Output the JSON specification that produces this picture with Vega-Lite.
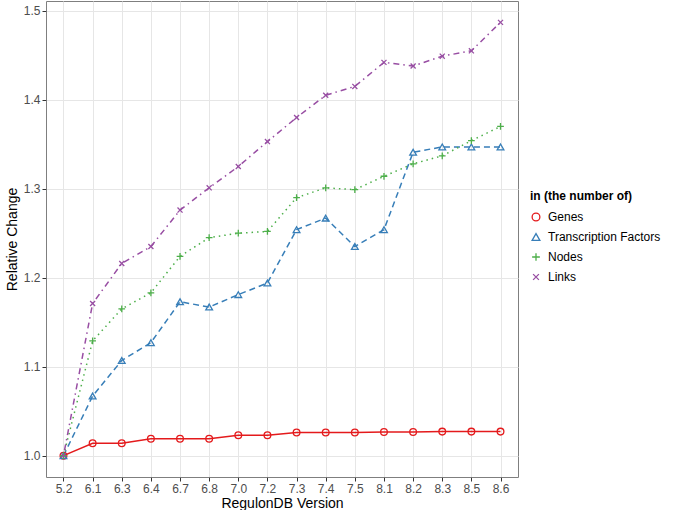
{
  "$schema": "https://vega.github.io/schema/vega-lite/v6.json",
  "width": 472,
  "height": 476,
  "padding": {"left": 5, "top": 1, "right": 0, "bottom": 0},
  "background": "white",
  "config": {
    "font": "Liberation Sans",
    "view": {"stroke": "#7f7f7f", "strokeWidth": 1},
    "axis": {
      "domain": false,
      "tickColor": "#333333",
      "tickSize": 4,
      "labelColor": "#4d4d4d",
      "labelFontSize": 12,
      "labelPadding": 2,
      "titleFontSize": 14,
      "titleFontWeight": "normal",
      "titleColor": "#000000",
      "gridColor": "#e6e6e6",
      "gridWidth": 1
    },
    "legend": {
      "titleFontSize": 12,
      "titleFontWeight": "bold",
      "titleColor": "#000000",
      "labelFontSize": 12,
      "labelColor": "#000000"
    }
  },
  "datasets": {
    "rc": [
      {"version": "5.2", "series": "Genes", "value": 1.0},
      {"version": "6.1", "series": "Genes", "value": 1.014},
      {"version": "6.3", "series": "Genes", "value": 1.014},
      {"version": "6.4", "series": "Genes", "value": 1.019},
      {"version": "6.7", "series": "Genes", "value": 1.019},
      {"version": "6.8", "series": "Genes", "value": 1.019},
      {"version": "7.0", "series": "Genes", "value": 1.023},
      {"version": "7.2", "series": "Genes", "value": 1.023},
      {"version": "7.3", "series": "Genes", "value": 1.026},
      {"version": "7.4", "series": "Genes", "value": 1.026},
      {"version": "7.5", "series": "Genes", "value": 1.026},
      {"version": "8.1", "series": "Genes", "value": 1.0265},
      {"version": "8.2", "series": "Genes", "value": 1.0265},
      {"version": "8.3", "series": "Genes", "value": 1.027},
      {"version": "8.5", "series": "Genes", "value": 1.027},
      {"version": "8.6", "series": "Genes", "value": 1.027},
      {"version": "5.2", "series": "Transcription Factors", "value": 1.0},
      {"version": "6.1", "series": "Transcription Factors", "value": 1.067},
      {"version": "6.3", "series": "Transcription Factors", "value": 1.107},
      {"version": "6.4", "series": "Transcription Factors", "value": 1.127},
      {"version": "6.7", "series": "Transcription Factors", "value": 1.173},
      {"version": "6.8", "series": "Transcription Factors", "value": 1.167},
      {"version": "7.0", "series": "Transcription Factors", "value": 1.181},
      {"version": "7.2", "series": "Transcription Factors", "value": 1.194},
      {"version": "7.3", "series": "Transcription Factors", "value": 1.254},
      {"version": "7.4", "series": "Transcription Factors", "value": 1.267},
      {"version": "7.5", "series": "Transcription Factors", "value": 1.235},
      {"version": "8.1", "series": "Transcription Factors", "value": 1.254},
      {"version": "8.2", "series": "Transcription Factors", "value": 1.341},
      {"version": "8.3", "series": "Transcription Factors", "value": 1.347},
      {"version": "8.5", "series": "Transcription Factors", "value": 1.347},
      {"version": "8.6", "series": "Transcription Factors", "value": 1.347},
      {"version": "5.2", "series": "Nodes", "value": 1.0},
      {"version": "6.1", "series": "Nodes", "value": 1.129},
      {"version": "6.3", "series": "Nodes", "value": 1.165},
      {"version": "6.4", "series": "Nodes", "value": 1.183},
      {"version": "6.7", "series": "Nodes", "value": 1.224},
      {"version": "6.8", "series": "Nodes", "value": 1.245},
      {"version": "7.0", "series": "Nodes", "value": 1.25},
      {"version": "7.2", "series": "Nodes", "value": 1.252},
      {"version": "7.3", "series": "Nodes", "value": 1.29},
      {"version": "7.4", "series": "Nodes", "value": 1.301},
      {"version": "7.5", "series": "Nodes", "value": 1.299},
      {"version": "8.1", "series": "Nodes", "value": 1.314},
      {"version": "8.2", "series": "Nodes", "value": 1.328},
      {"version": "8.3", "series": "Nodes", "value": 1.337},
      {"version": "8.5", "series": "Nodes", "value": 1.354},
      {"version": "8.6", "series": "Nodes", "value": 1.37},
      {"version": "5.2", "series": "Links", "value": 1.0},
      {"version": "6.1", "series": "Links", "value": 1.171},
      {"version": "6.3", "series": "Links", "value": 1.216},
      {"version": "6.4", "series": "Links", "value": 1.235},
      {"version": "6.7", "series": "Links", "value": 1.276},
      {"version": "6.8", "series": "Links", "value": 1.301},
      {"version": "7.0", "series": "Links", "value": 1.325},
      {"version": "7.2", "series": "Links", "value": 1.353},
      {"version": "7.3", "series": "Links", "value": 1.38},
      {"version": "7.4", "series": "Links", "value": 1.405},
      {"version": "7.5", "series": "Links", "value": 1.415},
      {"version": "8.1", "series": "Links", "value": 1.442},
      {"version": "8.2", "series": "Links", "value": 1.438},
      {"version": "8.3", "series": "Links", "value": 1.449},
      {"version": "8.5", "series": "Links", "value": 1.455},
      {"version": "8.6", "series": "Links", "value": 1.487}
    ]
  },
  "data": {"name": "rc"},
  "encoding": {
    "x": {
      "field": "version",
      "type": "ordinal",
      "sort": ["5.2","6.1","6.3","6.4","6.7","6.8","7.0","7.2","7.3","7.4","7.5","8.1","8.2","8.3","8.5","8.6"],
      "scale": {"padding": 0.6},
      "axis": {"title": "RegulonDB Version", "labelAngle": 0, "grid": true, "titlePadding": 2}
    },
    "y": {
      "field": "value",
      "type": "quantitative",
      "scale": {"domain": [0.976, 1.511], "nice": false, "zero": false}
    },
    "color": {
      "field": "series",
      "type": "nominal",
      "scale": {
        "domain": ["Genes", "Transcription Factors", "Nodes", "Links"],
        "range": ["#E41A1C", "#377EB8", "#4DAF4A", "#984EA3"]
      },
      "legend": {
        "title": "in (the number of)",
        "orient": "none",
        "legendX": 484,
        "legendY": 190,
        "titlePadding": 8,
        "symbolFillColor": "transparent",
        "symbolStrokeWidth": 1.3,
        "symbolSize": 60,
        "rowPadding": 7,
        "labelOffset": 6
      }
    }
  },
  "layer": [
    {
      "transform": [{"filter": "datum.series === 'Genes'"}],
      "mark": {"type": "line", "strokeWidth": 1.5},
      "encoding": {
        "y": {
          "field": "value",
          "type": "quantitative",
          "axis": {"title": "Relative Change", "values": [1.0, 1.1, 1.2, 1.3, 1.4, 1.5], "format": ".1f", "titlePadding": 4}
        }
      }
    },
    {
      "transform": [{"filter": "datum.series === 'Transcription Factors'"}],
      "mark": {"type": "line", "strokeWidth": 1.5, "strokeDash": [6, 4]},
      "encoding": {"y": {"field": "value", "type": "quantitative", "axis": null}}
    },
    {
      "transform": [{"filter": "datum.series === 'Nodes'"}],
      "mark": {"type": "line", "strokeWidth": 1.5, "strokeDash": [1.5, 4]},
      "encoding": {"y": {"field": "value", "type": "quantitative", "axis": null}}
    },
    {
      "transform": [{"filter": "datum.series === 'Links'"}],
      "mark": {"type": "line", "strokeWidth": 1.5, "strokeDash": [1.5, 4, 6, 4]},
      "encoding": {"y": {"field": "value", "type": "quantitative", "axis": null}}
    },
    {
      "mark": {"type": "point", "filled": false, "strokeWidth": 1.3, "size": 45, "opacity": 1},
      "encoding": {
        "y": {
          "field": "value",
          "type": "quantitative",
          "axis": {"orient": "right", "values": [0.95, 1.05, 1.15, 1.25, 1.35, 1.45], "labels": false, "ticks": false, "domain": false, "title": null, "gridColor": "#f4f4f4"}
        },
        "shape": {
          "field": "series",
          "type": "nominal",
          "scale": {
            "domain": ["Genes", "Transcription Factors", "Nodes", "Links"],
            "range": ["circle", "triangle-up", "M-1,0L1,0M0,-1L0,1", "M-0.75,-0.75L0.75,0.75M0.75,-0.75L-0.75,0.75"]
          },
          "legend": {"title": "in (the number of)"}
        }
      }
    }
  ],
  "resolve": {"axis": {"y": "independent"}}
}
